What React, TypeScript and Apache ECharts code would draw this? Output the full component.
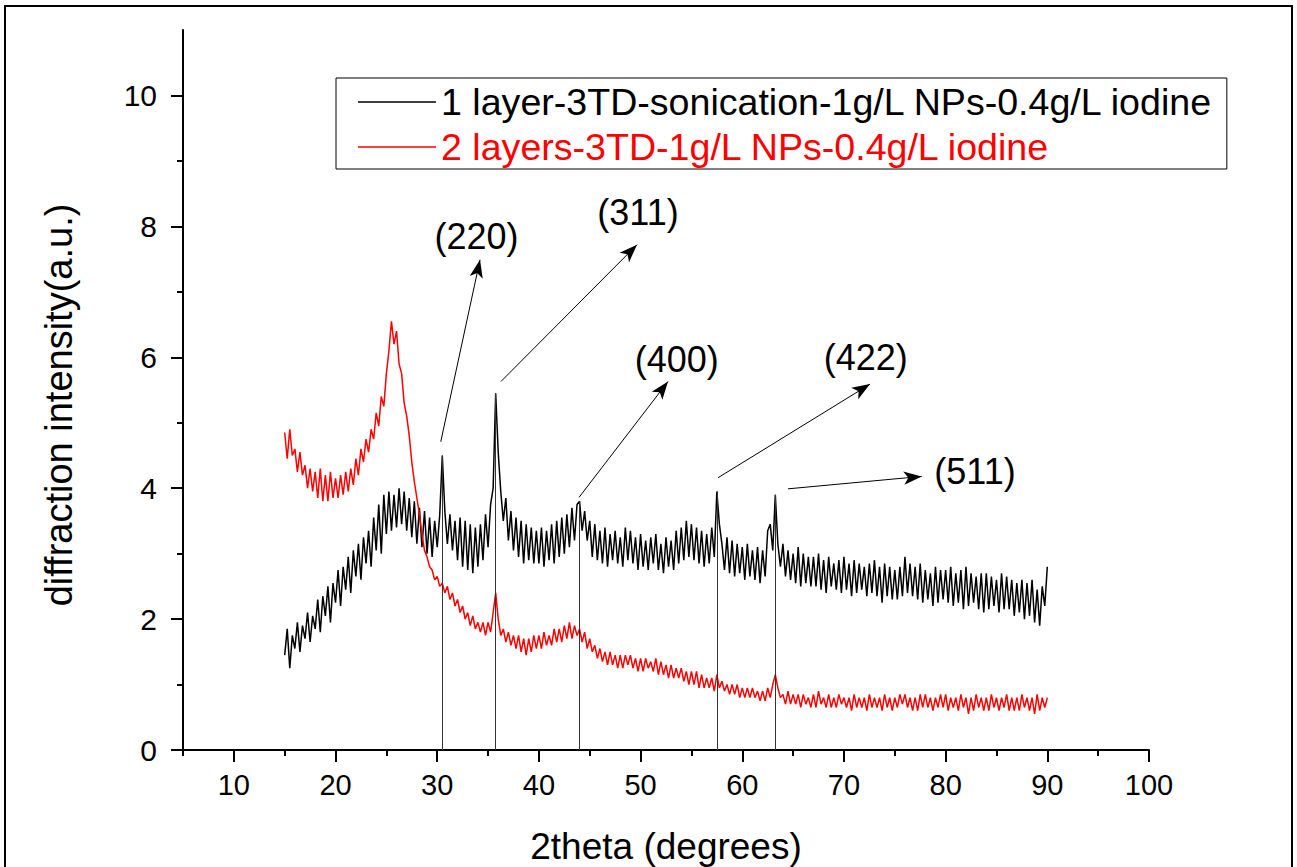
import React, { useEffect, useRef } from "react";
import * as echarts from "echarts";

// 2theta grid of the scans (degrees)
const X_START = 15;
const X_STEP = 0.25;

// 1 layer-3TD-sonication sample (black), read from 15° to 90°, 4 points per degree
const blackValues = [
  1.45, 1.85, 1.25, 1.75, 1.55, 1.95, 1.5, 1.9, 1.7, 2.1, 1.65, 2.05, 1.85, 2.3, 1.8, 2.35,
  2.05, 2.5, 1.95, 2.55, 2.25, 2.75, 2.2, 2.8, 2.45, 2.95, 2.4, 3.05, 2.65, 3.15, 2.6, 3.25,
  2.85, 3.35, 2.8, 3.55, 3.05, 3.75, 3.0, 3.9, 3.3, 3.95, 3.35, 3.9, 3.4, 4.0, 3.45, 3.95,
  3.35, 3.85, 3.25, 3.8, 3.15, 3.7, 3.1, 3.65, 3.0, 3.55, 2.95, 3.5, 3.1, 3.6, 4.5, 3.65,
  3.15, 3.6, 3.05, 3.5, 2.9, 3.55, 2.8, 3.5, 2.75, 3.45, 2.7, 3.4, 2.8, 3.45, 2.9, 3.6,
  3.1, 3.75, 4.0, 5.45, 4.55, 3.95, 3.5, 3.85, 3.2, 3.65, 3.05, 3.55, 2.95, 3.5, 2.85, 3.45,
  2.9, 3.4, 2.85, 3.35, 2.85, 3.4, 2.8, 3.35, 2.9, 3.45, 2.85, 3.5, 2.95, 3.55, 3.0, 3.6,
  3.1, 3.7, 3.2, 3.75, 3.8, 3.35, 3.65, 3.2, 3.5, 2.95, 3.45, 2.9, 3.35, 2.85, 3.4, 2.8,
  3.3, 2.9, 3.35, 2.85, 3.25, 2.8, 3.4, 2.9, 3.35, 2.85, 3.25, 2.75, 3.3, 2.8, 3.2, 2.75,
  3.25, 2.85, 3.3, 2.75, 3.15, 2.7, 3.25, 2.8, 3.2, 2.75, 3.35, 2.85, 3.4, 2.9, 3.5, 2.95,
  3.45, 2.9, 3.4, 2.85, 3.35, 2.8, 3.3, 2.85, 3.4, 2.95, 3.95, 3.45, 3.15, 2.75, 3.25, 2.7,
  3.2, 2.65, 3.15, 2.7, 3.1, 2.6, 3.15, 2.65, 3.05, 2.6, 3.1, 2.55, 3.05, 2.65, 3.35, 3.45,
  3.05, 3.9, 3.15, 2.8, 3.15, 2.65, 3.05, 2.6, 3.0, 2.55, 3.1, 2.5, 3.0, 2.55, 2.95, 2.5,
  2.95, 2.5, 3.0, 2.45, 2.9, 2.4, 2.95, 2.5, 2.85, 2.45, 2.9, 2.4, 2.95, 2.45, 2.85, 2.35,
  2.9, 2.4, 2.85, 2.45, 2.8, 2.35, 2.85, 2.4, 2.9, 2.35, 2.8, 2.25, 2.85, 2.35, 2.8, 2.3,
  2.75, 2.3, 2.8, 2.35, 2.95, 2.4, 2.85, 2.35, 2.8, 2.3, 2.85, 2.25, 2.75, 2.3, 2.7, 2.2,
  2.8, 2.25, 2.75, 2.3, 2.75, 2.25, 2.8, 2.2, 2.7, 2.25, 2.75, 2.15, 2.8, 2.2, 2.7, 2.25,
  2.65, 2.15, 2.7, 2.1, 2.7, 2.15, 2.65, 2.2, 2.6, 2.1, 2.7, 2.15, 2.65, 2.15, 2.6, 2.05,
  2.55, 2.1, 2.6, 2.0, 2.55, 2.05, 2.6, 1.95, 2.45, 1.9, 2.5, 2.2, 2.8,
];

// 2 layers-3TD sample (red), same grid
const redValues = [
  4.85, 4.45, 4.9, 4.5, 4.6, 4.25, 4.55, 4.2, 4.35, 4.0, 4.3, 3.95, 4.25, 3.85, 4.3, 3.8,
  4.2, 3.8, 4.25, 3.85, 4.15, 3.85, 4.2, 3.9, 4.25, 3.95, 4.3, 4.05, 4.45, 4.2, 4.6, 4.4,
  4.75, 4.55, 4.9, 4.75, 5.15, 4.95, 5.4, 5.25, 5.75, 6.1, 6.55, 6.2, 6.4, 5.9, 5.75, 5.3,
  5.1, 4.8, 4.4, 4.1, 3.85, 3.6, 3.3, 3.05, 2.95, 2.8, 2.75, 2.6, 2.65, 2.5, 2.55, 2.4,
  2.5, 2.3, 2.4, 2.2, 2.3, 2.1, 2.2, 2.0, 2.1, 1.9, 2.05, 1.85, 1.95, 1.8, 1.95, 1.75,
  1.95, 1.8, 2.1, 2.4, 2.0, 1.75, 1.85, 1.65, 1.8, 1.6, 1.75, 1.55, 1.75, 1.5, 1.7, 1.45,
  1.7, 1.5, 1.75, 1.55, 1.75, 1.55, 1.8, 1.6, 1.75, 1.6, 1.85, 1.65, 1.85, 1.65, 1.9, 1.7,
  1.95, 1.7, 1.9, 1.75, 1.85, 1.65, 1.8, 1.55, 1.7, 1.5, 1.6, 1.4, 1.55, 1.35, 1.5, 1.3,
  1.5, 1.3, 1.45, 1.25, 1.45, 1.25, 1.45, 1.3, 1.45, 1.25, 1.4, 1.2, 1.4, 1.2, 1.4, 1.25,
  1.35, 1.2, 1.4, 1.15, 1.35, 1.15, 1.3, 1.1, 1.3, 1.1, 1.25, 1.1, 1.25, 1.05, 1.2, 1.0,
  1.2, 1.0, 1.2, 0.95, 1.15, 0.95, 1.1, 0.95, 1.1, 0.9, 1.15, 0.95, 1.05, 0.9, 1.0, 0.85,
  1.0, 0.85, 1.0, 0.8, 0.95, 0.8, 0.95, 0.8, 0.95, 0.8, 0.9, 0.75, 0.9, 0.75, 0.95, 0.8,
  1.0, 1.15, 0.95, 0.8, 0.85, 0.7, 0.9, 0.7, 0.85, 0.7, 0.85, 0.65, 0.85, 0.7, 0.8, 0.65,
  0.85, 0.65, 0.9, 0.7, 0.8, 0.65, 0.85, 0.65, 0.8, 0.65, 0.85, 0.7, 0.8, 0.65, 0.8, 0.6,
  0.85, 0.65, 0.8, 0.65, 0.8, 0.6, 0.85, 0.65, 0.8, 0.65, 0.8, 0.6, 0.85, 0.65, 0.8, 0.6,
  0.8, 0.65, 0.85, 0.7, 0.85, 0.65, 0.8, 0.6, 0.8, 0.6, 0.85, 0.65, 0.85, 0.65, 0.8, 0.6,
  0.8, 0.65, 0.85, 0.65, 0.85, 0.6, 0.8, 0.65, 0.8, 0.6, 0.85, 0.65, 0.8, 0.55, 0.8, 0.6,
  0.85, 0.65, 0.8, 0.6, 0.8, 0.6, 0.85, 0.65, 0.8, 0.6, 0.8, 0.65, 0.85, 0.6, 0.8, 0.6,
  0.8, 0.6, 0.85, 0.65, 0.8, 0.6, 0.8, 0.55, 0.85, 0.6, 0.8, 0.65, 0.8,
];

const seriesNames = [
  "1 layer-3TD-sonication-1g/L NPs-0.4g/L iodine",
  "2 layers-3TD-1g/L NPs-0.4g/L iodine",
];

// axis ticks
const xMajorTicks = [10, 20, 30, 40, 50, 60, 70, 80, 90, 100];
const xMinorTicks = [5, 15, 25, 35, 45, 55, 65, 75, 85, 95];
const yMajorTicks = [0, 2, 4, 6, 8, 10];
const yMinorTicks = [1, 3, 5, 7, 9];

// peak annotations (Miller indices)
const peakLabels = ["(220)", "(311)", "(400)", "(422)", "(511)"];
const peakX = [30.5, 35.75, 44.0, 57.5, 63.25];
const peakTop = [4.5, 5.45, 3.8, 3.95, 3.9];
const arrowFrom = [
  [30.35, 4.71],
  [36.27, 5.63],
  [43.95, 3.86],
  [57.62, 4.16],
  [64.5, 3.99],
];
const arrowTo = [
  [34.21, 7.49],
  [49.65, 7.72],
  [52.7, 5.63],
  [72.57, 5.59],
  [77.65, 4.18],
];
const labelAt = [
  [33.87, 7.84],
  [49.75, 8.21],
  [53.55, 5.96],
  [72.14, 5.99],
  [82.89, 4.25],
];

const FONT = '"Liberation Sans", Arial, sans-serif';

export default function App() {
  const ref = useRef<HTMLDivElement>(null);

  useEffect(() => {
    if (!ref.current) return;
    const chart = echarts.init(ref.current, null, { renderer: "svg" });

    const toPairs = (vals: number[]) => vals.map((v, i) => [X_START + i * X_STEP, v]);

    const axisLine = { show: true, onZero: false, lineStyle: { color: "#000", width: 2 } };
    const tickStyle = { color: "#000", width: 2 };

    const option: any = {
      animation: false,
      backgroundColor: "#fff",
      textStyle: { fontFamily: FONT },
      grid: { left: 183, right: 148, top: 30, bottom: 117, containLabel: false, outerBoundsMode: "none" },
      graphic: [
        {
          type: "rect",
          shape: { x: 5, y: 6, width: 1287, height: 880 },
          style: { fill: "none", stroke: "#000", lineWidth: 2 },
          silent: true,
          z: 100,
        },
      ],
      legend: {
        show: true,
        orient: "vertical",
        left: 336,
        top: 78,
        padding: [4, 13, 2, 22],
        itemGap: 5,
        itemWidth: 78,
        itemHeight: 1.5,
        icon: "rect",
        borderColor: "#000",
        borderWidth: 1,
        selectedMode: false,
        textStyle: { fontSize: 37.6, fontFamily: FONT, lineHeight: 40 },
        data: [
          { name: seriesNames[0], textStyle: { color: "#000" } },
          { name: seriesNames[1], textStyle: { color: "#ff0000" } },
        ],
      },
      xAxis: [
        {
          type: "value",
          min: 5,
          max: 100,
          position: "bottom",
          axisLine,
          axisTick: { show: true, customValues: xMajorTicks, length: 12, lineStyle: tickStyle },
          axisLabel: { show: true, customValues: xMajorTicks, color: "#000", fontSize: 29, fontFamily: FONT, margin: 20 },
          splitLine: { show: false },
          name: "2theta (degrees)",
          nameLocation: "middle",
          nameGap: 78,
          nameTextStyle: { color: "#000", fontSize: 37, fontFamily: FONT },
        },
        {
          type: "value",
          min: 5,
          max: 100,
          position: "bottom",
          axisLine: { show: false },
          axisTick: { show: true, customValues: xMinorTicks, length: 6, lineStyle: tickStyle },
          axisLabel: { show: false },
          splitLine: { show: false },
        },
      ],
      yAxis: [
        {
          type: "value",
          min: 0,
          max: 11,
          position: "left",
          axisLine,
          axisTick: { show: true, customValues: yMajorTicks, length: 12, lineStyle: tickStyle },
          axisLabel: { show: true, customValues: yMajorTicks, color: "#000", fontSize: 30, fontFamily: FONT, margin: 26 },
          splitLine: { show: false },
          name: "diffraction intensity(a.u.)",
          nameLocation: "middle",
          nameGap: 105,
          nameRotate: 90,
          nameTextStyle: { color: "#000", fontSize: 38, fontFamily: FONT, padding: [0, 30, 0, 0] },
        },
        {
          type: "value",
          min: 0,
          max: 11,
          position: "left",
          axisLine: { show: false },
          axisTick: { show: true, customValues: yMinorTicks, length: 6, lineStyle: tickStyle },
          axisLabel: { show: false },
          splitLine: { show: false },
        },
      ],
      series: [
        {
          name: seriesNames[0],
          type: "line",
          xAxisIndex: 0,
          yAxisIndex: 0,
          data: toPairs(blackValues),
          showSymbol: false,
          symbol: "none",
          color: "#000",
          lineStyle: { color: "#000", width: 1.5 },
          silent: true,
          emphasis: { disabled: true },
          z: 2,
          markLine: {
            silent: true,
            symbol: ["none", "none"],
            label: { show: false },
            emphasis: { disabled: true },
            lineStyle: { color: "#333", width: 1, type: "solid" },
            data: peakX.map((x, i) => [{ coord: [x, 0] }, { coord: [x, peakTop[i]] }]),
          },
        },
        {
          name: seriesNames[1],
          type: "line",
          xAxisIndex: 0,
          yAxisIndex: 0,
          data: toPairs(redValues),
          showSymbol: false,
          symbol: "none",
          color: "#ff0000",
          lineStyle: { color: "#ff0000", width: 1.5 },
          silent: true,
          emphasis: { disabled: true },
          z: 3,
          markLine: {
            silent: true,
            symbol: ["none", "arrow"],
            symbolSize: [10, 18],
            label: { show: false },
            emphasis: { disabled: true },
            lineStyle: { color: "#000", width: 1, type: "solid" },
            itemStyle: { color: "#000" },
            data: arrowFrom.map((p, i) => [{ coord: p }, { coord: arrowTo[i] }]),
          },
        },
        {
          name: "peak labels",
          type: "scatter",
          xAxisIndex: 0,
          yAxisIndex: 0,
          symbolSize: 0,
          silent: true,
          z: 5,
          itemStyle: { color: "#000", opacity: 1 },
          data: labelAt.map((p, i) => ({ value: p, name: peakLabels[i] })),
          label: {
            show: true,
            position: "inside",
            formatter: "{b}",
            color: "#000",
            opacity: 1,
            textBorderWidth: 0,
            textBorderColor: "transparent",
            fontSize: 36,
            fontFamily: FONT,
          },
          emphasis: { disabled: true },
        },
      ],
    };

    chart.setOption(option);
    return () => {
      chart.dispose();
    };
  }, []);

  return (
    <div
      ref={ref}
      style={{ position: "fixed", left: 0, top: 0, width: 1297, height: 867, background: "#fff" }}
    />
  );
}
